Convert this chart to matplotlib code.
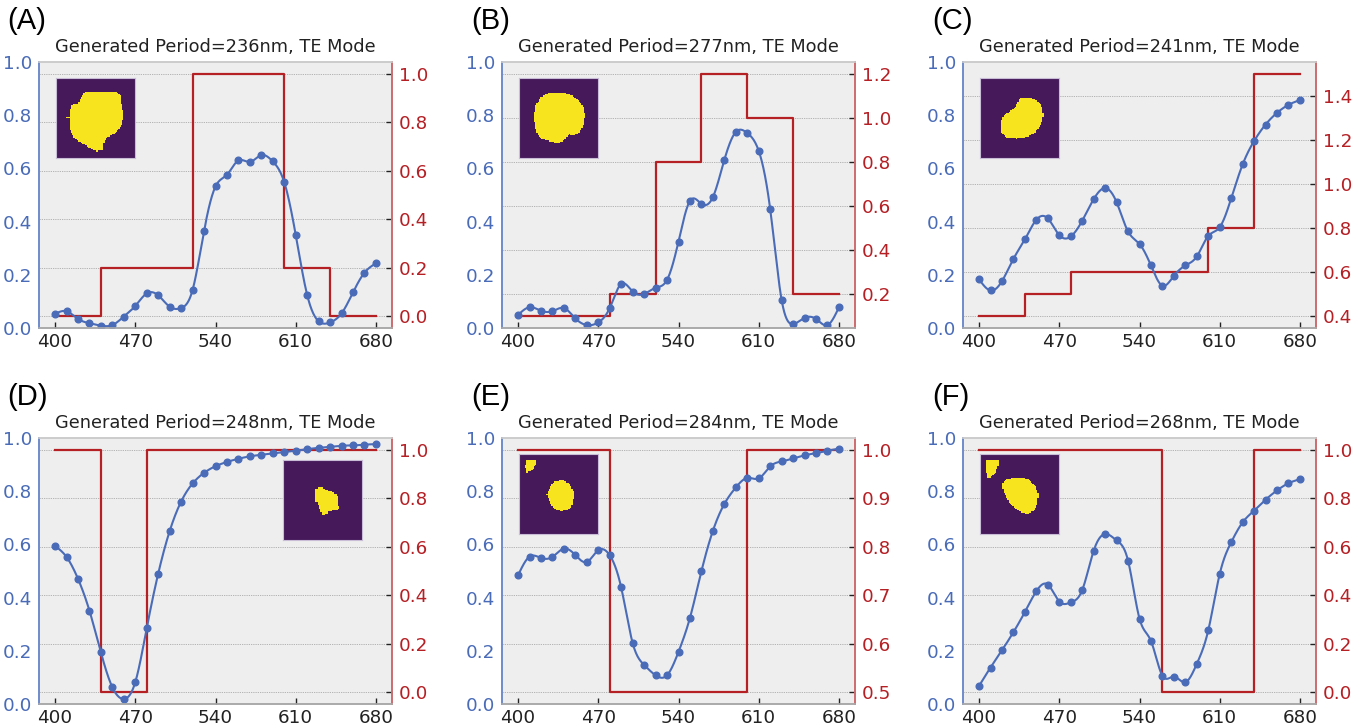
#!/usr/bin/env python3
"""Six panels: simulated spectrum (blue, left) vs target step profile (red, right)."""
import matplotlib
matplotlib.use("Agg")
import matplotlib.pyplot as plt
import numpy as np
from matplotlib.colors import ListedColormap
from matplotlib.path import Path
from matplotlib.ticker import MultipleLocator

BLUE = "#4a6cb8"
RED = "#b52025"

wavelengths = list(range(400, 690, 10))
step_edges = [400, 440, 480, 520, 560, 600, 640, 680]

panel_labels = ["(A)", "(B)", "(C)", "(D)", "(E)", "(F)"]
periods = [236, 277, 241, 248, 284, 268]

spec_a = [0.053, 0.063, 0.034, 0.018, 0.009, 0.011, 0.043, 0.083, 0.130, 0.123, 0.080, 0.075, 0.143, 0.365, 0.532,
          0.576, 0.630, 0.624, 0.650, 0.626, 0.548, 0.350, 0.124, 0.025, 0.021, 0.055, 0.134, 0.208, 0.243]
spec_b = [0.049, 0.078, 0.065, 0.063, 0.075, 0.036, 0.011, 0.021, 0.075, 0.166, 0.137, 0.128, 0.151, 0.181, 0.325,
          0.478, 0.467, 0.492, 0.632, 0.737, 0.733, 0.666, 0.447, 0.105, 0.015, 0.038, 0.034, 0.011, 0.078]
spec_c = [0.183, 0.141, 0.176, 0.260, 0.333, 0.407, 0.412, 0.349, 0.344, 0.403, 0.484, 0.526, 0.473, 0.363, 0.316,
          0.235, 0.159, 0.196, 0.235, 0.269, 0.346, 0.379, 0.487, 0.615, 0.703, 0.765, 0.809, 0.839, 0.857]
spec_d = [0.594, 0.553, 0.471, 0.351, 0.194, 0.063, 0.019, 0.082, 0.285, 0.490, 0.650, 0.761, 0.829, 0.869, 0.894,
          0.910, 0.922, 0.931, 0.937, 0.942, 0.947, 0.952, 0.958, 0.963, 0.967, 0.971, 0.972, 0.975, 0.977]
spec_e = [0.484, 0.554, 0.549, 0.553, 0.584, 0.560, 0.534, 0.578, 0.559, 0.438, 0.229, 0.147, 0.108, 0.108, 0.196,
          0.324, 0.499, 0.651, 0.752, 0.814, 0.850, 0.848, 0.893, 0.912, 0.923, 0.935, 0.943, 0.952, 0.960]
spec_f = [0.068, 0.137, 0.202, 0.270, 0.346, 0.424, 0.449, 0.385, 0.382, 0.428, 0.576, 0.639, 0.615, 0.539, 0.321,
          0.237, 0.106, 0.103, 0.082, 0.151, 0.277, 0.489, 0.608, 0.683, 0.727, 0.768, 0.803, 0.830, 0.845]

target_a = [0.0, 0.2, 0.2, 1.0, 1.0, 0.2, 0.0]
target_b = [0.1, 0.1, 0.2, 0.8, 1.2, 1.0, 0.2]
target_c = [0.4, 0.5, 0.6, 0.6, 0.6, 0.8, 1.5]
target_d = [1.0, 0.0, 1.0, 1.0, 1.0, 1.0, 1.0]
target_e = [1.0, 1.0, 0.5, 0.5, 0.5, 1.0, 1.0]
target_f = [1.0, 1.0, 1.0, 1.0, 0.0, 0.0, 1.0]
right_tick_step = [0.2, 0.2, 0.2, 0.2, 0.1, 0.2]

# blob outlines on a 64x64 grid, (col, row)
blob_a = [[(23.2, 11.2), (48.6, 10.7), (51.8, 14.4), (52.6, 21.9), (54.5, 29.9), (52.6, 37.9), (47.3, 44.6),
           (40.6, 47.3), (38.4, 52.6), (37.9, 57.9), (32.6, 58.7), (27.2, 56.1), (20.6, 52.1), (14.4, 48.1),
           (11.2, 41.9), (10.7, 33.9), (10.7, 32.4), (8.5, 32.4), (8.5, 31.2), (10.7, 31.2), (10.7, 27.2),
           (12.5, 21.9), (17.9, 20.6), (20.6, 15.2)]]
blob_b = [[(25.4, 11.5), (36.0, 11.5), (42.7, 14.2), (48.1, 18.2), (51.5, 23.5), (52.9, 30.2), (51.5, 38.2),
           (48.6, 43.5), (44.1, 46.2), (40.1, 45.4), (37.4, 48.9), (33.4, 51.5), (28.0, 51.5), (18.7, 48.9),
           (14.7, 44.9), (12.8, 38.2), (12.0, 30.2), (13.4, 22.2), (17.4, 15.5)]]
blob_c = [[(33.4, 15.5), (41.4, 16.0), (46.7, 18.7), (50.2, 24.0), (50.7, 30.7), (48.6, 37.9), (44.1, 44.1),
           (37.4, 47.3), (29.4, 48.6), (21.4, 47.5), (17.6, 44.6), (16.6, 36.8), (18.7, 30.2), (23.5, 27.2),
           (28.0, 23.5), (30.7, 18.2)]]
blob_d = [[(26.4, 22.7), (31.2, 22.2), (36.6, 24.8), (41.9, 26.7), (44.1, 29.4), (44.6, 39.2), (40.6, 40.3),
           (36.6, 40.9), (35.2, 43.3), (31.2, 44.1), (29.9, 40.1), (28.0, 34.7), (25.9, 33.4), (26.4, 28.6),
           (25.4, 25.9)]]
blob_e = [[(5.9, 5.3), (14.7, 4.8), (13.4, 9.3), (9.9, 13.4), (6.4, 15.0), (5.3, 10.7)],
          [(27.2, 22.7), (34.7, 20.8), (40.6, 24.0), (43.8, 30.7), (43.3, 40.1), (40.6, 44.1), (33.9, 45.9),
           (27.2, 43.3), (24.0, 36.8), (22.4, 32.6), (25.1, 27.2)]]
blob_f = [[(5.3, 5.3), (15.2, 5.3), (14.7, 9.3), (12.0, 16.0), (6.7, 20.0), (5.3, 14.7)],
          [(21.4, 20.0), (30.7, 18.7), (38.7, 20.0), (44.1, 25.4), (46.7, 32.0), (46.2, 40.1), (43.5, 45.4),
           (37.4, 48.1), (30.7, 45.4), (24.0, 40.1), (21.4, 34.7), (18.7, 29.4), (17.9, 24.0)]]

spectra = [spec_a, spec_b, spec_c, spec_d, spec_e, spec_f]
targets = [target_a, target_b, target_c, target_d, target_e, target_f]
blobs = [blob_a, blob_b, blob_c, blob_d, blob_e, blob_f]
inset_right = [False, False, False, True, False, False]


def _spline(x, y, n=600):
    """Natural cubic spline through the sample points (for a smooth line only)."""
    x = np.asarray(x, dtype=float)
    y = np.asarray(y, dtype=float)
    h = np.diff(x)
    m = len(x)
    A = np.zeros((m, m))
    b = np.zeros(m)
    A[0, 0] = A[-1, -1] = 1.0
    for i in range(1, m - 1):
        A[i, i - 1] = h[i - 1]
        A[i, i] = 2 * (h[i - 1] + h[i])
        A[i, i + 1] = h[i]
        b[i] = 3 * ((y[i + 1] - y[i]) / h[i] - (y[i] - y[i - 1]) / h[i - 1])
    c = np.linalg.solve(A, b)
    bb = (y[1:] - y[:-1]) / h - h * (2 * c[:-1] + c[1:]) / 3
    d = (c[1:] - c[:-1]) / (3 * h)
    xs = np.linspace(x[0], x[-1], n)
    k = np.clip(np.searchsorted(x, xs) - 1, 0, m - 2)
    t = xs - x[k]
    return xs, y[k] + bb[k] * t + c[k] * t ** 2 + d[k] * t ** 3


def _raster(polys, size=64):
    jj, ii = np.meshgrid(np.arange(size) + 0.5, np.arange(size) + 0.5)
    pts = np.column_stack([jj.ravel(), ii.ravel()])
    mask = np.zeros(size * size, dtype=bool)
    for p in polys:
        mask |= Path(p).contains_points(pts)
    return mask.reshape(size, size).astype(float)


blob_cmap = ListedColormap(["#45195a", "#f7e41f"])

W, H = 1365, 727
fig = plt.figure(figsize=(W / 100, H / 100), dpi=100)
col_left = [39, 502, 963]
row_top = [62, 438]
ax_w, ax_h = 353, 266
label_x = [7, 471, 932]
label_y = [21, 397]
TICK_FS = 13.2

for n in range(6):
    r, cidx = divmod(n, 3)
    rect = [col_left[cidx] / W, 1 - (row_top[r] + ax_h) / H, ax_w / W, ax_h / H]
    ax2 = fig.add_axes(rect)
    ax2.set_facecolor("#eeeeee")
    ax2.yaxis.tick_right()
    ax = fig.add_axes(rect, sharex=ax2)
    ax.patch.set_visible(False)

    vals = targets[n]
    ax2.step(step_edges, vals + [vals[-1]], where="post", color=RED, lw=1.6)
    ax2.yaxis.set_major_locator(MultipleLocator(right_tick_step[n]))
    ax2.grid(axis="y", linestyle=(0, (1.5, 1.2)), color="#aaaaaa", lw=0.6)
    ax2.tick_params(axis="y", colors="#222222", labelcolor=RED, direction="in", length=4, width=1,
                    labelsize=TICK_FS, pad=5)
    ax2.tick_params(axis="x", bottom=False, labelbottom=False)

    xs, ys = _spline(wavelengths, spectra[n])
    ax.plot(xs, ys, color=BLUE, lw=1.5)
    ax.plot(wavelengths, spectra[n], "o", color=BLUE, ms=4.8)
    ax.set_ylim(0, 1)
    ax.set_xticks([400, 470, 540, 610, 680])
    ax.set_yticks([0, 0.2, 0.4, 0.6, 0.8, 1.0])
    ax.tick_params(axis="y", labelcolor=BLUE, length=0, labelsize=TICK_FS, pad=5)
    ax.tick_params(axis="x", labelcolor="#222222", color="#222222", direction="in", length=4, width=1,
                   labelsize=TICK_FS, pad=3.5)
    ax.yaxis.tick_left()
    ax.set_title(f"Generated Period={periods[n]}nm, TE Mode", fontsize=12.8, color="#222222", pad=7)

    for a in (ax, ax2):
        a.spines["top"].set_color("#cccccc")
        a.spines["bottom"].set_color("#aaaaaa")
        a.spines["left"].set_color("#6f8bcb")
        a.spines["right"].set_color("#cf6b6e")
        for s in a.spines.values():
            s.set_linewidth(1.2)

    pos = [0.69, 0.617, 0.225, 0.30] if inset_right[n] else [0.048, 0.64, 0.225, 0.30]
    ins = ax.inset_axes(pos)
    ins.imshow(_raster(blobs[n]), cmap=blob_cmap, vmin=0, vmax=1, interpolation="nearest")
    ins.set_xticks([])
    ins.set_yticks([])
    for s in ins.spines.values():
        s.set_color("#c8bcd6")
        s.set_linewidth(0.8)

    fig.text(label_x[cidx] / W, 1 - label_y[r] / H, panel_labels[n], fontsize=21,
             family="Liberation Sans", va="center", ha="left")

fig.savefig("out.png", dpi=100)
